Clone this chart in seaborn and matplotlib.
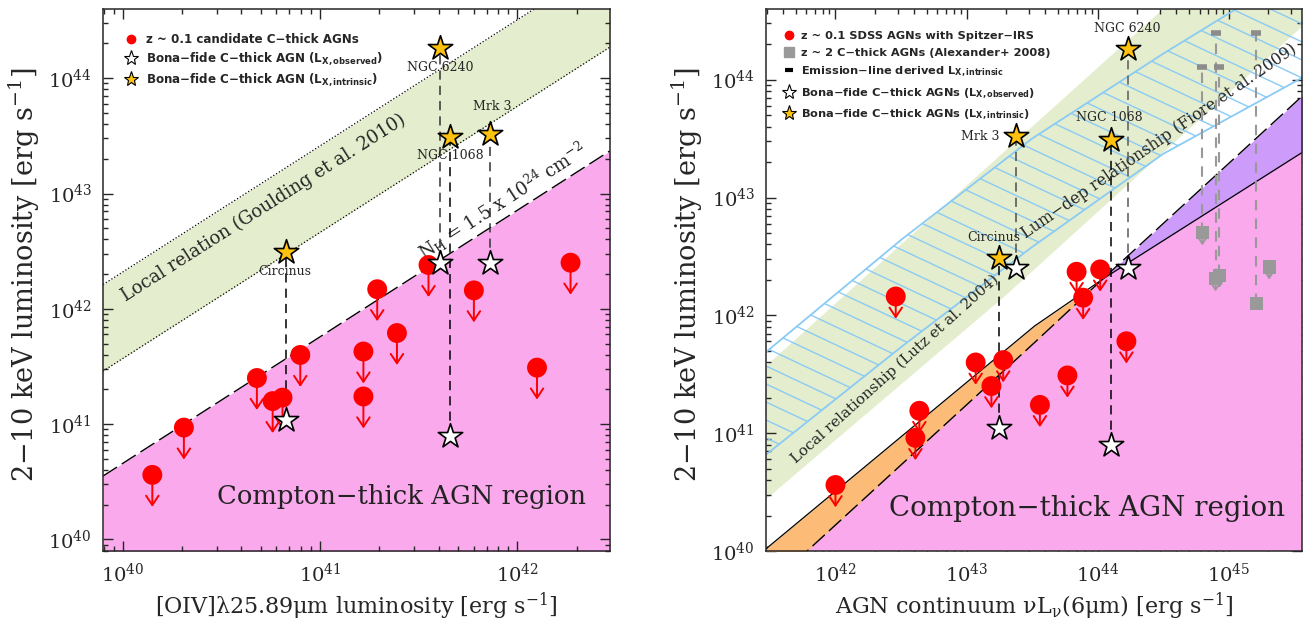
import numpy as np
import pandas as pd
import matplotlib
matplotlib.use("Agg")
import matplotlib.pyplot as plt
import seaborn as sns
from matplotlib.collections import LineCollection
from matplotlib.lines import Line2D
from matplotlib.ticker import NullFormatter

# ---------------- data (log10 luminosities) ----------------
# left panel: [OIV] luminosity vs 2-10 keV luminosity (upper limits)
oiv_red = [40.15, 40.31, 40.68, 40.76, 40.81, 40.90, 41.22, 41.22, 41.39, 42.10, 41.29, 41.55, 41.78, 42.27]
lx_red_left = [40.56, 40.97, 41.40, 41.20, 41.23, 41.60, 41.63, 41.24, 41.79, 41.49, 42.17, 42.38, 42.16, 42.40]

# right panel: 6um AGN continuum vs 2-10 keV luminosity (upper limits)
mir_red = [42.00, 42.46, 42.64, 42.61, 43.07, 43.28, 43.19, 43.56, 43.77, 44.22, 43.89, 43.84, 44.02]
lx_red_right = [40.56, 42.16, 41.19, 40.96, 41.60, 41.62, 41.40, 41.24, 41.49, 41.78, 42.15, 42.37, 42.39]

# bona-fide Compton-thick AGNs
bona_names = ["Circinus", "NGC 6240", "NGC 1068", "Mrk 3"]
bona_oiv = [40.83, 41.61, 41.66, 41.86]
bona_mir = [43.25, 44.23, 44.10, 43.38]
bona_lx_obs = [41.04, 42.40, 40.90, 42.40]
bona_lx_int = [42.49, 44.26, 43.49, 43.52]

# z~2 C-thick AGNs (Alexander+ 2008)
alex_mir = [44.80, 44.90, 44.93, 45.21, 45.31]
alex_lx = [42.70, 42.31, 42.34, 42.10, 42.41]
alex_limit = [True, True, True, False, True]
alex_line_mir = [44.80, 44.90, 44.93, 45.21]
alex_line_lx = [44.11, 44.40, 44.11, 44.40]

# relations / regions
goulding_x = [39.9, 42.47]
goulding_lo = [41.46, 44.27]
goulding_hi = [42.21, 45.02]
nh_left_x = [39.9, 42.47]
nh_left_y = [40.55, 43.37]

lutz_x = [41.45, 43.3, 45.6]
lutz_lo = [40.42, 42.17, 44.49]
lutz_hi = [41.55, 43.40, 45.70]
fiore_x = [41.45, 42.5, 43.5, 44.5, 45.6]
fiore_lo = [40.80, 41.73, 42.58, 43.37, 44.04]
fiore_hi = [41.67, 42.64, 43.50, 44.22, 44.97]
ct_x = [41.45, 43.52, 44.07, 45.6]
ct_dash = [39.66, 41.77, 42.34, 43.90]
ct_solid = [40.00, 41.91, 42.33, 43.41]

# ---------------- style ----------------
sns.set_style("ticks")
plt.rcParams['font.family'] = 'DejaVu Serif'
plt.rcParams['mathtext.fontset'] = 'dejavuserif'
plt.rcParams['mathtext.default'] = 'regular'
plt.rcParams['axes.linewidth'] = 1.1

pink = '#F9A9EC'
green = '#E4EDCD'
orange = '#FCBC78'
purple = '#CD9BFA'
blue = '#8ACBF5'
gold = '#FFC20E'
xlab_font = 16
ylab_font = 19.5
tick_font = 14

L = lambda v: 10 ** np.asarray(v, dtype=float)

fig = plt.figure(figsize=(13.03, 6.2), dpi=100)
ax1 = fig.add_axes([103 / 1303, 69 / 620, 507 / 1303, 542 / 620])
ax2 = fig.add_axes([766 / 1303, 69 / 620, 536 / 1303, 542 / 620])


def red_limits(ax, xs, ys, arrow_len):
    df = pd.DataFrame({"x": L(xs), "y": L(ys)})
    for x, y in zip(df.x, df.y):
        ax.annotate('', xy=(x, y), xytext=(0, -arrow_len), textcoords='offset points',
                    arrowprops=dict(arrowstyle='<-, head_length=0.45, head_width=0.3', color='red',
                                    lw=1.4, shrinkA=0, shrinkB=0, mutation_scale=15), zorder=6)
    sns.scatterplot(data=df, x="x", y="y", ax=ax, color='red', s=205, edgecolor='none',
                    linewidth=0, zorder=7, legend=False)


def bona_fide(ax, xs, line_colors):
    for x, y0, y1, c in zip(L(xs), L(bona_lx_obs), L(bona_lx_int), line_colors):
        ax.plot([x, x], [y0, y1], color=c, lw=1.1, dashes=(6, 4), zorder=5)
    d_obs = pd.DataFrame({"x": L(xs), "y": L(bona_lx_obs)})
    d_int = pd.DataFrame({"x": L(xs), "y": L(bona_lx_int)})
    sns.scatterplot(data=d_obs, x="x", y="y", ax=ax, marker='*', s=340, color='white',
                    edgecolor='black', linewidth=1.2, zorder=8, legend=False)
    sns.scatterplot(data=d_int, x="x", y="y", ax=ax, marker='*', s=340, color=gold,
                    edgecolor='black', linewidth=1.2, zorder=8, legend=False)


def finish(ax, xlim, ylim):
    ax.set_xscale('log')
    ax.set_yscale('log')
    ax.set_xlim(L(xlim[0]), L(xlim[1]))
    ax.set_ylim(L(ylim[0]), L(ylim[1]))
    ax.tick_params(which='both', direction='in', top=True, right=True, width=1.0,
                   labelsize=tick_font, pad=8)
    ax.tick_params(which='major', length=7)
    ax.tick_params(which='minor', length=3.5)
    ax.xaxis.set_minor_formatter(NullFormatter())
    ax.yaxis.set_minor_formatter(NullFormatter())
    for s in ax.spines.values():
        s.set_visible(True)
        s.set_zorder(20)


# ---------------- left panel ----------------
ax1.fill_between(L(nh_left_x), L(38), L(nh_left_y), color=pink, lw=0, zorder=0)
ax1.plot(L(nh_left_x), L(nh_left_y), color='black', lw=1.0, dashes=(12, 4), zorder=2)
ax1.fill_between(L(goulding_x), L(goulding_lo), L(goulding_hi), color=green, lw=0, zorder=0)
ax1.plot(L(goulding_x), L(goulding_lo), color='black', lw=0.9, ls=':', zorder=2)
ax1.plot(L(goulding_x), L(goulding_hi), color='black', lw=0.9, ls=':', zorder=2)

red_limits(ax1, oiv_red, lx_red_left, 23)
bona_fide(ax1, bona_oiv, ['black', '0.2', 'black', '0.2'])

left_offsets = {"Circinus": (-1.5, -14, 'center'), "NGC 6240": (0, -13.7, 'center'),
                "NGC 1068": (0, -13.2, 'center'), "Mrk 3": (2, 19.4, 'center')}
for name, x, y in zip(bona_names, L(bona_oiv), L(bona_lx_int)):
    dx, dy, ha = left_offsets[name]
    ax1.annotate(name, xy=(x, y), xytext=(dx, dy), textcoords='offset points', ha=ha,
                 va='center', fontsize=9, zorder=9)

ax1.text(0.316, 0.633, "Local relation (Goulding et al. 2010)", transform=ax1.transAxes,
         rotation=32.5, rotation_mode='anchor', ha='center', va='center', fontsize=13, zorder=3)
ax1.text(0.788, 0.645, r"N$_H$ = 1.5 x 10$^{24}$ cm$^{-2}$", transform=ax1.transAxes,
         rotation=33, rotation_mode='anchor', ha='center', va='center', fontsize=13, zorder=3)
ax1.text(0.589, 0.100, "Compton\u2212thick AGN region", transform=ax1.transAxes,
         ha='center', va='center', fontsize=18.6, color='#222222', zorder=3)

h1 = [Line2D([], [], ls='none', marker='o', color='red', markersize=6),
      Line2D([], [], ls='none', marker='*', mfc='white', mec='black', mew=0.8, markersize=11),
      Line2D([], [], ls='none', marker='*', mfc=gold, mec='black', mew=0.8, markersize=11)]
l1 = ["z ~ 0.1 candidate C\u2212thick AGNs",
      "Bona\u2212fide C\u2212thick AGN (L$_{X,observed}$)",
      "Bona\u2212fide C\u2212thick AGN (L$_{X,intrinsic}$)"]
ax1.legend(h1, l1, loc='upper left', bbox_to_anchor=(0.043, 0.956), borderaxespad=0, borderpad=0,
           frameon=False, handlelength=1.0, handletextpad=0.8, labelspacing=0.38,
           prop={'family': 'DejaVu Sans', 'weight': 'bold', 'size': 8.6})

finish(ax1, (39.9, 42.47), (39.9, 44.6))
ax1.set_xlabel(r"[OIV]$\lambda$25.89$\mu$m luminosity [erg s$^{-1}$]", fontsize=xlab_font)
ax1.set_ylabel("2\u221210 keV luminosity [erg s$^{-1}$]", fontsize=ylab_font)
ax1.xaxis.set_label_coords(0.5, -0.072)
ax1.yaxis.set_label_coords(-0.12, 0.51)

# ---------------- right panel ----------------
ax2.fill_between(L(lutz_x), L(lutz_lo), L(lutz_hi), color=green, lw=0, zorder=0)

fiore = ax2.fill_between(L(fiore_x), L(fiore_lo), L(fiore_hi), facecolor='none', edgecolor='none', zorder=1)
w_px, h_px, slope, step = 536.0, 542.0, 0.47, 18.0
segs = [[(0, c / h_px), (1, (c - slope * w_px) / h_px)]
        for c in np.arange(5, h_px + slope * w_px + step, step)]
hatch = LineCollection(segs, colors=blue, linewidths=1.0, transform=ax2.transAxes, zorder=1)
ax2.add_collection(hatch, autolim=False)
hatch.set_clip_path(fiore.get_paths()[0], ax2.transData)
ax2.plot(L(fiore_x), L(fiore_lo), color=blue, lw=1.3, zorder=1)
ax2.plot(L(fiore_x), L(fiore_hi), color=blue, lw=1.3, zorder=1)

cx, cd, cs = L(ct_x), L(ct_dash), L(ct_solid)
ax2.fill_between(cx, L(38), np.minimum(cd, cs), color=pink, lw=0, zorder=2)
ax2.fill_between(cx, cd, cs, where=cs >= cd, interpolate=True, color=orange, lw=0, zorder=2)
ax2.fill_between(cx, cs, cd, where=cd >= cs, interpolate=True, color=purple, lw=0, zorder=2)
ax2.plot(cx, cs, color='black', lw=0.9, zorder=3)
ax2.plot(cx, cd, color='black', lw=1.0, dashes=(12, 4), zorder=3)

# Alexander+ 2008 sources
for x, y0, y1 in zip(L(alex_line_mir), L(alex_line_lx), [L(alex_lx)[i] for i in range(4)]):
    ax2.plot([x, x], [y1, y0], color='0.6', lw=1.5, dashes=(5, 4), zorder=4)
ax2.plot(L(alex_line_mir), L(alex_line_lx), ls='none', marker='_', markersize=7.5, mew=4,
         color='0.55', zorder=5)
for x, y, lim in zip(L(alex_mir), L(alex_lx), alex_limit):
    if lim:
        ax2.annotate('', xy=(x, y), xytext=(0, -9), textcoords='offset points',
                     arrowprops=dict(arrowstyle='<-, head_length=0.3, head_width=0.2', color='0.6',
                                     lw=1.3, shrinkA=0, shrinkB=0, mutation_scale=12), zorder=5)
d_alex = pd.DataFrame({"x": L(alex_mir), "y": L(alex_lx)})
sns.scatterplot(data=d_alex, x="x", y="y", ax=ax2, marker='s', s=90, color='0.6',
                edgecolor='none', linewidth=0, zorder=6, legend=False)

red_limits(ax2, mir_red, lx_red_right, 16)
bona_fide(ax2, bona_mir, ['black', '0.35', 'black', '0.3'])

right_offsets = {"Circinus": (-4.3, 14.4, 'center'), "NGC 6240": (0, 15, 'center'),
                 "NGC 1068": (-1, 16.3, 'center'), "Mrk 3": (-12, 0, 'right')}
for name, x, y in zip(bona_names, L(bona_mir), L(bona_lx_int)):
    dx, dy, ha = right_offsets[name]
    ax2.annotate(name, xy=(x, y), xytext=(dx, dy), textcoords='offset points', ha=ha,
                 va='center', fontsize=9, zorder=9)

ax2.text(0.241, 0.336, "Local relationship (Lutz et al. 2004)", transform=ax2.transAxes,
         rotation=42, rotation_mode='anchor', ha='center', va='center', fontsize=10.8, zorder=3)
ax2.text(0.733, 0.756, "Lum\u2212dep relationship (Fiore et al. 2009)", transform=ax2.transAxes,
         rotation=34.6, rotation_mode='anchor', ha='center', va='center', fontsize=11.4, zorder=3)
ax2.text(0.598, 0.079, "Compton\u2212thick AGN region", transform=ax2.transAxes,
         ha='center', va='center', fontsize=20, color='#222222', zorder=3)

h2 = [Line2D([], [], ls='none', marker='o', color='red', markersize=6),
      Line2D([], [], ls='none', marker='s', color='0.6', markersize=7),
      Line2D([], [], ls='none', marker='_', color='black', markersize=6, mew=3),
      Line2D([], [], ls='none', marker='*', mfc='white', mec='black', mew=0.8, markersize=11),
      Line2D([], [], ls='none', marker='*', mfc=gold, mec='black', mew=0.8, markersize=11)]
l2 = ["z ~ 0.1 SDSS AGNs with Spitzer\u2212IRS",
      "z ~ 2 C\u2212thick AGNs (Alexander+ 2008)",
      "Emission\u2212line derived L$_{X,intrinsic}$",
      "Bona\u2212fide C\u2212thick AGNs (L$_{X,observed}$)",
      "Bona\u2212fide C\u2212thick AGNs (L$_{X,intrinsic}$)"]
ax2.legend(h2, l2, loc='upper left', bbox_to_anchor=(0.032, 0.96), borderaxespad=0, borderpad=0,
           frameon=False, handlelength=1.0, handletextpad=0.55, labelspacing=0.62,
           prop={'family': 'DejaVu Sans', 'weight': 'bold', 'size': 8.2})

finish(ax2, (41.47, 45.56), (40.0, 44.6))
ax2.set_xlabel(r"AGN continuum $\nu$L$_\nu$(6$\mu$m) [erg s$^{-1}$]", fontsize=xlab_font)
ax2.set_ylabel("2\u221210 keV luminosity [erg s$^{-1}$]", fontsize=ylab_font)
ax2.xaxis.set_label_coords(0.5, -0.072)
ax2.yaxis.set_label_coords(-0.114, 0.51)

fig.savefig("out.png", dpi=100)
